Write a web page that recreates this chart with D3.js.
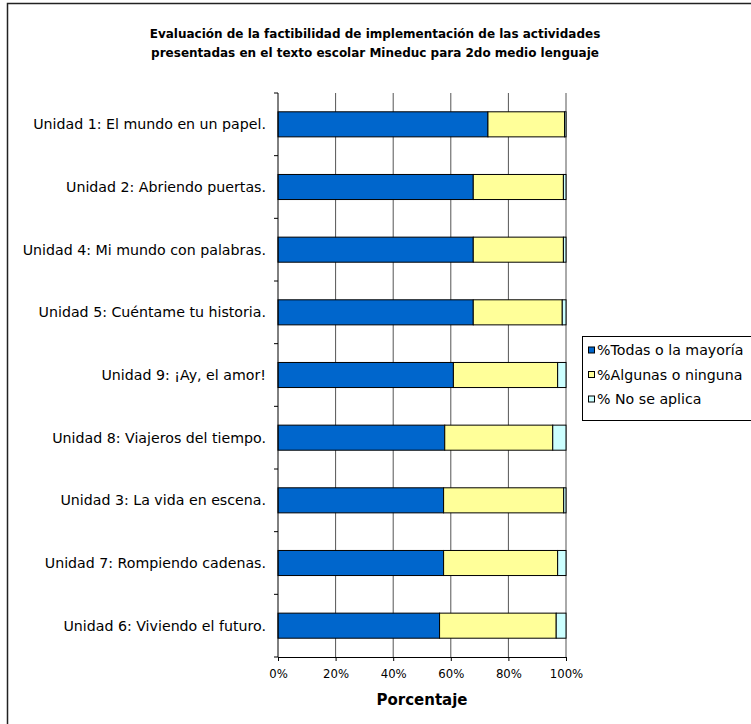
<!DOCTYPE html>
<html>
<head>
<meta charset="utf-8">
<script src="https://cdn.jsdelivr.net/npm/d3@7/dist/d3.min.js"></script>
<style>
  html, body { margin: 0; padding: 0; background: #fff; }
  svg { display: block; }
  text { font-family: "DejaVu Sans", Verdana, sans-serif; fill: #000; }
</style>
</head>
<body>
<svg id="chart" width="751" height="724"></svg>
<script>
const categories = [
  "Unidad 1: El mundo en un papel.",
  "Unidad 2: Abriendo puertas.",
  "Unidad 4: Mi mundo con palabras.",
  "Unidad 5: Cuéntame tu historia.",
  "Unidad 9: ¡Ay, el amor!",
  "Unidad 8: Viajeros del tiempo.",
  "Unidad 3: La vida en escena.",
  "Unidad 7: Rompiendo cadenas.",
  "Unidad 6: Viviendo el futuro."
];
const seriesNames = ["%Todas o la mayoría", "%Algunas o ninguna", "% No se aplica"];
const todas    = [72.9, 67.8, 67.8, 67.8, 60.9, 57.9, 57.5, 57.5, 56.1];
const algunas  = [26.6, 31.3, 31.3, 30.9, 36.2, 37.5, 41.7, 39.6, 40.5];
const noAplica = [0.5, 0.9, 0.9, 1.3, 2.9, 4.6, 0.8, 2.9, 3.4];
const xTicks = [0, 20, 40, 60, 80, 100];
const title = ["Evaluación de la factibilidad de implementación de las actividades",
               "presentadas en el texto escolar Mineduc para 2do medio lenguaje"];
const xTitle = "Porcentaje";
const colors = ["#0066CC", "#FFFF99", "#CCFFFF"];

const svg = d3.select("#chart");
const margin = {left: 278, top: 93, right: 751 - 566, bottom: 724 - 657};
const W = 566 - 278, H = 657 - 93;

// outer chart border
svg.append("rect").attr("x", 7.5).attr("y", 3.5).attr("width", 800).attr("height", 800)
  .attr("fill", "#fff").attr("stroke", "#222").attr("stroke-width", 1.5);

// title
svg.append("text").attr("x", 375).attr("y", 38).attr("text-anchor", "middle")
  .style("font-weight", "bold").style("font-size", "12px").text(title[0]);
svg.append("text").attr("x", 375).attr("y", 57).attr("text-anchor", "middle")
  .style("font-weight", "bold").style("font-size", "12px").text(title[1]);

const g = svg.append("g").attr("transform", `translate(${margin.left},${margin.top})`);

const x = d3.scaleLinear().domain([0, 100]).range([0, W]);
const y = d3.scaleBand().domain(categories).range([0, H]).paddingInner(0.6).paddingOuter(0.3);
const yTicksScale = d3.scaleBand().domain(categories).range([0, H]);

// gridlines
g.selectAll(".grid").data(xTicks.slice(1)).enter().append("line")
  .attr("x1", d => x(d)).attr("x2", d => x(d)).attr("y1", 0).attr("y2", H)
  .attr("stroke", "#555").attr("stroke-width", 1);

// stacked data
const rows = categories.map((c, i) => ({cat: c, a: todas[i], b: algunas[i], c: noAplica[i]}));
const stack = d3.stack().keys(["a", "b", "c"]);
const stacked = stack(rows);

stacked.forEach((layer, k) => {
  g.selectAll(".bar" + k).data(layer).enter().append("rect")
    .attr("x", d => x(d[0]))
    .attr("y", d => y(d.data.cat))
    .attr("width", d => x(d[1]) - x(d[0]))
    .attr("height", y.bandwidth())
    .attr("fill", colors[k])
    .attr("stroke", "#000").attr("stroke-width", 1);
});

// y axis
const yAxis = g.append("g");
yAxis.append("line").attr("x1", 0).attr("x2", 0).attr("y1", 0).attr("y2", H).attr("stroke", "#000");
const tickPos = categories.map(c => yTicksScale(c)).concat([H]);
yAxis.selectAll(".yt").data(tickPos).enter().append("line")
  .attr("x1", -4).attr("x2", 0).attr("y1", d => d).attr("y2", d => d).attr("stroke", "#000");
yAxis.selectAll(".yl").data(categories).enter().append("text")
  .attr("x", -12).attr("y", d => yTicksScale(d) + yTicksScale.bandwidth() / 2)
  .attr("dy", "0.35em").attr("text-anchor", "end").style("font-size", "14.2px").text(d => d);

// x axis
const xAxis = g.append("g").attr("transform", `translate(0,${H})`)
  .call(d3.axisBottom(x).tickValues(xTicks).tickFormat(d => d + "%").tickSize(4).tickSizeOuter(0).tickPadding(9));
xAxis.select(".domain").attr("stroke", "#000");
xAxis.selectAll("line").attr("stroke", "#000");
xAxis.selectAll("text").style("font-size", "11.7px").style("font-family", '"DejaVu Sans", Verdana, sans-serif');

svg.append("text").attr("x", margin.left + W / 2).attr("y", 705).attr("text-anchor", "middle")
  .style("font-weight", "bold").style("font-size", "15px").text(xTitle);

// legend
const lg = svg.append("g").attr("transform", "translate(582,336)");
lg.append("rect").attr("x", 0.5).attr("y", 0.5).attr("width", 200).attr("height", 84)
  .attr("fill", "#fff").attr("stroke", "#000");
seriesNames.forEach((n, i) => {
  const yy = 14.5 + i * 24.5;
  lg.append("rect").attr("x", 6.5).attr("y", yy - 3.5).attr("width", 6).attr("height", 6)
    .attr("fill", colors[i]).attr("stroke", "#000");
  lg.append("text").attr("x", 15).attr("y", yy).attr("dy", "0.35em")
    .style("font-size", "14.2px").text(n);
});
</script>
</body>
</html>
